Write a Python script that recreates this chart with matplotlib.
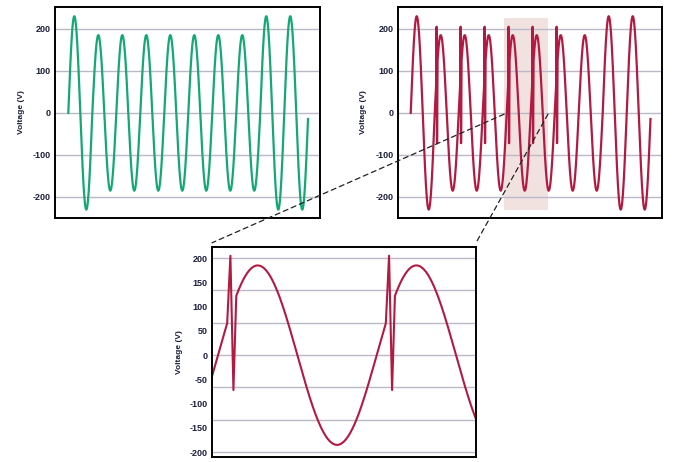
import numpy as np
import matplotlib
matplotlib.use("Agg")
import matplotlib.pyplot as plt
from matplotlib.patches import ConnectionPatch

# ---------------- data ----------------
# peak amplitude of each of the 10 mains cycles (V)
cycle_amps = [230, 185, 185, 185, 185, 185, 185, 185, 230, 230]
n_cycles = 9.99                          # signal runs for ~10 cycles
# transient spikes (right chart): cycles that contain a spike
spike_cycles = [1, 2, 3, 4, 5, 6]
# spike shape: phase (fraction of a cycle) and voltage of the inserted points
spike_start_phase = 0.059
spike_phases = [0.078, 0.097]
spike_volts = [205, -72]
spike_end_phase = 0.113
# zoomed window (in cycles) and highlighted box
zoom_window = [3.962, 5.626]
shade_x = [3.89, 5.72]
shade_y = [-230, 226]

top_ticks = [-200, -100, 0, 100, 200]
top_ticklabels = ["-200", "-100", "0", "100", "200"]
bot_ticks = [-200, -150, -100, -50, 0, 50, 100, 150, 200]
bot_ticklabels = ["-200", "-150", "-100", "-50", "0", "50", "100", "150", "200"]
bot_grid = [-200, -133.33, -66.67, 0, 66.67, 133.33, 200]

GREEN = "#14a873"
RED = "#b31a42"
GRID = "#b9b9c9"
TXT = "#1b1f3b"
FONT = "Liberation Sans"

# ---------------- build waveforms ----------------
spc = 400
t = np.linspace(0, n_cycles, int(n_cycles * spc) + 1)
amp = np.array(cycle_amps)[np.minimum(t.astype(int), len(cycle_amps) - 1)]
clean = amp * np.sin(2 * np.pi * t)

tt, vv = list(t), list(clean)
ts, vs = [], []
i = 0
keep = np.ones_like(t, dtype=bool)
for c in spike_cycles:
    keep &= ~((t > c + spike_start_phase) & (t < c + spike_end_phase))
ts = list(t[keep])
vs = list(clean[keep])
for c in spike_cycles:
    for p, v in zip(spike_phases, spike_volts):
        ts.append(c + p)
        vs.append(v)
order = np.argsort(ts)
ts = np.array(ts)[order]
vs = np.array(vs)[order]

# ---------------- figure ----------------
fig = plt.figure(figsize=(7.0, 4.62), dpi=100)
ax1 = fig.add_axes([55 / 700, 1 - 218 / 462, 265 / 700, 211 / 462])
ax2 = fig.add_axes([398 / 700, 1 - 218 / 462, 264 / 700, 211 / 462])
ax3 = fig.add_axes([212 / 700, 1 - 457 / 462, 264 / 700, 210 / 462])


def style(ax, ticks, labels, ylim, xlim, grid_vals, label_x):
    ax.set_ylim(*ylim)
    ax.set_xlim(*xlim)
    ax.set_xticks([])
    ax.set_yticks(ticks)
    ax.set_yticklabels(labels, fontfamily=FONT, fontweight="bold",
                       fontsize=6.5, color=TXT)
    ax.tick_params(axis="y", length=0, pad=3)
    for g in grid_vals:
        ax.axhline(g, color=GRID, lw=1.0, zorder=0.5)
    for s in ax.spines.values():
        s.set_linewidth(1.4)
        s.set_color("black")
    ax.set_ylabel("Voltage (V)", fontfamily=FONT, fontweight="bold",
                  fontsize=6.0, color=TXT)
    ax.yaxis.set_label_coords(label_x, 0.5)


style(ax1, top_ticks, top_ticklabels, (-250, 252), (-0.555, 10.49), top_ticks, -0.114)
style(ax2, top_ticks, top_ticklabels, (-250, 252), (-0.53, 10.47), top_ticks, -0.116)
style(ax3, bot_ticks, bot_ticklabels, (-210, 223), zoom_window, bot_grid, -0.11)

ax1.plot(t, clean, color=GREEN, lw=1.6, zorder=2)
ax2.fill_between(shade_x, shade_y[0], shade_y[1], color="#f1e2df", lw=0, zorder=0.3)
ax2.plot(ts, vs, color=RED, lw=1.6, zorder=2)
ax3.plot(ts, vs, color=RED, lw=1.5, zorder=2, clip_on=True)

# dashed connectors from highlighted box to zoomed chart
for xa, xb in [(shade_x[0], 0.0), (shade_x[1], 1.0)]:
    con = ConnectionPatch(xyA=(xa, -3), coordsA=ax2.transData,
                          xyB=(xb, 1.02), coordsB=ax3.transAxes,
                          linestyle=(0, (4, 3)), color="#222222", lw=0.9,
                          zorder=10)
    fig.add_artist(con)

fig.savefig("out.png", dpi=100)
